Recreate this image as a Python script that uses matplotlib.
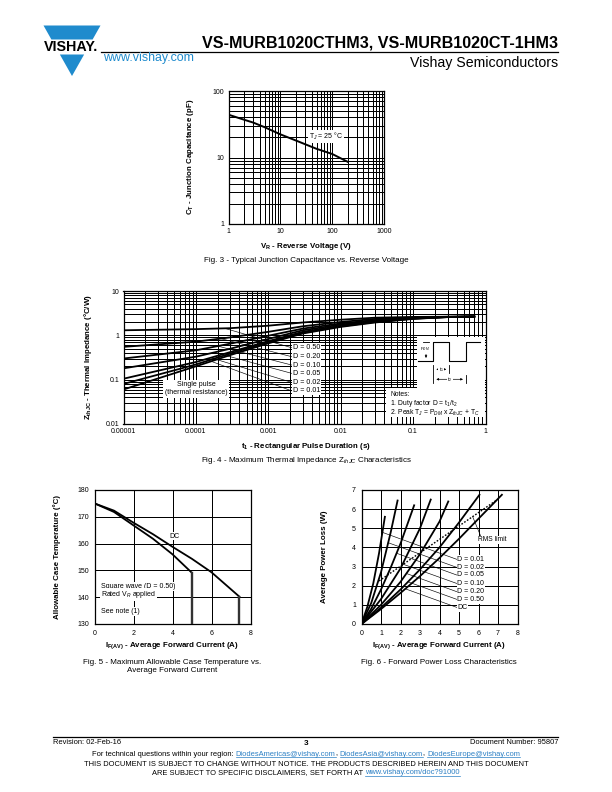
import numpy as np
import matplotlib
matplotlib.use('Agg')
import matplotlib.pyplot as plt
from matplotlib.patches import Polygon, Rectangle
from matplotlib.ticker import LogLocator, FixedLocator, NullFormatter

plt.rcParams['font.family'] = ['Liberation Sans', 'DejaVu Sans']
plt.rcParams['mathtext.fontset'] = 'custom'
plt.rcParams['mathtext.rm'] = 'Liberation Sans'
plt.rcParams['mathtext.it'] = 'Liberation Sans:italic'
plt.rcParams['mathtext.bf'] = 'Liberation Sans:bold'

# ---------------- data ----------------
# Fig. 3
vr_volts = [1, 2, 3, 5, 10, 20, 50, 100, 200]
cap_pf = [44, 37, 33.5, 28.5, 22.3, 18, 13.5, 11.3, 8.6]
fig3_xticks = [1, 10, 100, 1000]
fig3_xticklabels = ['1', '10', '100', '1000']
fig3_yticks = [1, 10, 100]
fig3_yticklabels = ['1', '10', '100']

# Fig. 4
pulse_t = [1e-5, 1e-4, 3e-4, 1e-3, 3e-3, 1e-2, 3e-2, 1e-1, 0.3, 0.7]
zth_d050 = [1.3, 1.38, 1.45, 1.65, 1.95, 2.25, 2.5, 2.6, 2.63, 2.65]
zth_d020 = [0.55, 0.72, 0.9, 1.2, 1.6, 2.0, 2.35, 2.52, 2.62, 2.65]
zth_d010 = [0.3, 0.46, 0.65, 0.98, 1.42, 1.85, 2.22, 2.47, 2.61, 2.65]
zth_d005 = [0.18, 0.33, 0.5, 0.83, 1.3, 1.75, 2.13, 2.43, 2.6, 2.65]
zth_d002 = [0.105, 0.25, 0.42, 0.74, 1.2, 1.65, 2.05, 2.4, 2.59, 2.65]
zth_d001 = [0.08, 0.22, 0.39, 0.7, 1.15, 1.6, 2.0, 2.37, 2.58, 2.65]
zth_single = [0.06, 0.2, 0.36, 0.66, 1.1, 1.55, 1.95, 2.35, 2.58, 2.65]
fig4_labels = ['D = 0.50', 'D = 0.20', 'D = 0.10', 'D = 0.05', 'D = 0.02', 'D = 0.01']
fig4_xticks = [1e-5, 1e-4, 1e-3, 1e-2, 1e-1, 1]
fig4_xticklabels = ['0.00001', '0.0001', '0.001', '0.01', '0.1', '1']
fig4_yticks = [0.01, 0.1, 1, 10]
fig4_yticklabels = ['0.01', '0.1', '1', '10']

# Fig. 5
sq_current = [0, 1, 2, 3, 4, 4.98]
sq_temp = [175, 171.8, 166.8, 161.8, 156, 149.2]
dc_current = [0, 1, 2, 3, 4, 5, 6, 7.43]
dc_temp = [175, 172.3, 167.8, 163.5, 158.8, 154.3, 149.3, 140.2]

# Fig. 6
i_d001 = [0, 0.3, 0.6, 0.9, 1.2]
p_d001 = [0, 0.9, 2.1, 3.7, 5.6]
i_d002 = [0, 0.5, 1.0, 1.5, 1.85]
p_d002 = [0, 1.1, 2.7, 4.8, 6.45]
i_d005 = [0, 0.5, 1.0, 1.5, 2.0, 2.7]
p_d005 = [0, 0.8, 1.8, 2.95, 4.2, 6.2]
i_d010 = [0, 1, 2, 3, 3.55]
p_d010 = [0, 1.3, 2.9, 5.0, 6.5]
i_d020 = [0, 1, 2, 3, 4, 4.45]
p_d020 = [0, 1.0, 2.2, 3.65, 5.35, 6.4]
i_d050 = [0, 1, 2, 3, 4, 5, 6.05]
p_d050 = [0, 0.85, 1.8, 2.85, 4.0, 5.3, 6.75]
i_dc = [0, 1, 2, 3, 4, 5, 6, 7.2]
p_dc = [0, 0.78, 1.62, 2.5, 3.45, 4.45, 5.5, 6.75]
rms_i = [0.9, 6.9]
rms_p = [2.25, 6.45]
fig6_labels = ['D = 0.01', 'D = 0.02', 'D = 0.05', 'D = 0.10', 'D = 0.20', 'D = 0.50', 'DC']

# ---------------- figure ----------------
W, H = 612, 792
fig = plt.figure(figsize=(W / 100, H / 100), dpi=100)


def rect(l, t, r, b):
    return [l / W, 1 - b / H, (r - l) / W, (b - t) / H]


def T(x, y, s, **kw):
    return fig.text(x / W, 1 - y / H, s, **kw)


BLUE = '#1f8bcd'
LINK = '#2a7fc4'
GRID = dict(color='black', linewidth=0.72)
TICK_FS = 5
LAB_FS = 5.7
CAP_FS = 5.75
BOX = dict(facecolor='white', edgecolor='none', pad=0.6)


def style(ax, pad=3):
    for sp in ax.spines.values():
        sp.set_linewidth(0.9)
        sp.set_color('black')
    ax.tick_params(which='both', length=0, labelsize=TICK_FS, pad=pad)
    ax.set_axisbelow(True)


# ---- Fig 3 ----
ax3 = fig.add_axes(rect(228.5, 91, 384, 224))
ax3.set_xscale('log')
ax3.set_yscale('log')
ax3.set_xlim(1, 1000)
ax3.set_ylim(1, 100)
for axis in (ax3.xaxis, ax3.yaxis):
    axis.set_minor_locator(LogLocator(base=10, subs=np.arange(2, 10)))
    axis.set_minor_formatter(NullFormatter())
ax3.xaxis.set_major_locator(FixedLocator(fig3_xticks))
ax3.set_xticklabels(fig3_xticklabels)
ax3.yaxis.set_major_locator(FixedLocator(fig3_yticks))
ax3.set_yticklabels(fig3_yticklabels)
ax3.grid(which='both', **GRID)
style(ax3)
ax3.plot(vr_volts, cap_pf, color='black', lw=1.4)
ax3.text(75, 20.5, 'T$_J$ = 25 °C', ha='center', va='center', fontsize=5.0, bbox=BOX)
T(190, 157, r'C$_\mathbf{T}$ - Junction Capacitance (pF)', rotation=90, ha='center', va='center',
  fontsize=LAB_FS, fontweight='bold')
T(306, 246, r'V$_\mathbf{R}$ - Reverse Voltage (V)', ha='center', va='center', fontsize=LAB_FS,
  fontweight='bold')
T(306, 260, 'Fig. 3 - Typical Junction Capacitance vs. Reverse Voltage', ha='center', va='center',
  fontsize=CAP_FS)

# ---- Fig 4 ----
ax4 = fig.add_axes(rect(123.5, 291, 485.5, 424))
ax4.set_xscale('log')
ax4.set_yscale('log')
ax4.set_xlim(1e-5, 1)
ax4.set_ylim(0.01, 10)
for axis in (ax4.xaxis, ax4.yaxis):
    axis.set_minor_locator(LogLocator(base=10, subs=np.arange(2, 10)))
    axis.set_minor_formatter(NullFormatter())
ax4.xaxis.set_major_locator(FixedLocator(fig4_xticks))
ax4.set_xticklabels(fig4_xticklabels)
ax4.yaxis.set_major_locator(FixedLocator(fig4_yticks))
ax4.set_yticklabels(fig4_yticklabels)
ax4.grid(which='both', **GRID)
style(ax4)
zth_series = [zth_d050, zth_d020, zth_d010, zth_d005, zth_d002, zth_d001]
for z in zth_series + [zth_single]:
    ax4.plot(pulse_t, z, color='black', lw=1.3, zorder=3)
label_t = 2.1e-3
label_y4 = [0.526, 0.33, 0.214, 0.139, 0.087, 0.056]
start_t4 = [2.5e-4, 2.2e-4, 2.0e-4, 1.8e-4, 1.6e-4, 1.5e-4]
lt = np.log10(pulse_t)
for z, lab, ly, st in zip(zth_series, fig4_labels, label_y4, start_t4):
    sy = 10 ** np.interp(np.log10(st), lt, np.log10(z))
    ax4.plot([st, label_t], [sy, ly], color='black', lw=0.45, zorder=2)
    ax4.text(label_t * 1.03, ly, lab, ha='left', va='center', fontsize=5.1, bbox=BOX, zorder=4)
ax4.text(1.0e-4, 0.062, 'Single pulse\n(thermal resistance)', ha='center', va='center',
         fontsize=5.0, linespacing=1.2, bbox=dict(facecolor='white', edgecolor='none', pad=1.2),
         zorder=4)
T(88, 357, r'Z$_\mathbf{thJC}$ - Thermal Impedance (°C/W)', rotation=90, ha='center', va='center',
  fontsize=LAB_FS, fontweight='bold')
T(306, 446, r't$_\mathbf{1}$ - Rectangular Pulse Duration (s)', ha='center', va='center',
  fontsize=LAB_FS, fontweight='bold')
T(306, 461, 'Fig. 4 - Maximum Thermal Impedance Z$_{thJC}$ Characteristics', ha='center',
  va='center', fontsize=CAP_FS)

# ---- Fig 5 ----
ax5 = fig.add_axes(rect(94.5, 490, 250.5, 624))
ax5.set_xlim(0, 8)
ax5.set_ylim(130, 180)
ax5.set_xticks([0, 2, 4, 6, 8])
ax5.set_yticks([130, 140, 150, 160, 170, 180])
ax5.grid(which='major', **GRID)
style(ax5, pad=4)
ax5.plot(sq_current, sq_temp, color='black', lw=1.3, zorder=3)
ax5.plot(dc_current, dc_temp, color='black', lw=1.3, zorder=3)
ax5.plot([sq_current[-1], sq_current[-1]], [sq_temp[-1], 130], color='#333333', lw=1.7, zorder=3)
ax5.plot([dc_current[-1], dc_current[-1]], [dc_temp[-1], 130], color='#333333', lw=1.7, zorder=3)
ax5.text(4.1, 162.8, 'DC', ha='center', va='center', fontsize=5.0, bbox=BOX)
ax5.text(0.33, 143.9, 'Square wave (D = 0.50)', ha='left', va='center', fontsize=5.0, bbox=BOX)
ax5.text(0.33, 141.1, 'Rated V$_R$ applied', ha='left', va='center', fontsize=5.0, bbox=BOX)
ax5.text(0.33, 134.6, 'See note (1)', ha='left', va='center', fontsize=5.0, bbox=BOX)
T(57, 557, 'Allowable Case Temperature (°C)', rotation=90, ha='center', va='center',
  fontsize=LAB_FS, fontweight='bold')
T(172, 646, r'I$_\mathbf{F(AV)}$ - Average Forward Current (A)', ha='center', va='center',
  fontsize=LAB_FS, fontweight='bold')
T(172, 662, 'Fig. 5 - Maximum Allowable Case Temperature vs.', ha='center', va='center',
  fontsize=CAP_FS)
T(172, 671, 'Average Forward Current', ha='center', va='center', fontsize=CAP_FS)

# ---- Fig 6 ----
ax6 = fig.add_axes(rect(361.5, 490, 517.5, 624))
ax6.set_xlim(0, 8)
ax6.set_ylim(0, 7)
ax6.set_xticks(range(0, 9))
ax6.set_yticks(range(0, 8))
ax6.grid(which='major', **GRID)
style(ax6, pad=4)
curves6 = [(i_d001, p_d001), (i_d002, p_d002), (i_d005, p_d005), (i_d010, p_d010),
           (i_d020, p_d020), (i_d050, p_d050), (i_dc, p_dc)]
for xs, ys in curves6:
    ax6.plot(xs, ys, color='black', lw=1.3, zorder=3)
ax6.plot(rms_i, rms_p, color='black', lw=1.0, ls=(0, (1.2, 1.2)), zorder=3)
label_x6 = 4.88
label_y6 = [3.38, 2.96, 2.56, 2.12, 1.69, 1.29, 0.87]
for (xs, ys), lab, ly in zip(curves6, fig6_labels, label_y6):
    xx = np.linspace(0, xs[-1], 600)
    yy = np.interp(xx, xs, ys)
    d = yy - (ly - 0.37 * (xx - label_x6))
    k = np.where(np.diff(np.sign(d)) != 0)[0][0]
    ax6.plot([xx[k], label_x6], [yy[k], ly], color='black', lw=0.45, zorder=2)
    ax6.text(label_x6 + 0.04, ly, lab, ha='left', va='center', fontsize=5.0, bbox=BOX, zorder=4)
rx = 5.7
ry = np.interp(rx, rms_i, rms_p)
ax6.plot([rx, 6.15], [ry, 4.5], color='black', lw=0.45, zorder=2)
ax6.text(6.72, 4.39, 'RMS limit', ha='center', va='center', fontsize=4.8, bbox=BOX, zorder=4)
T(324, 557, 'Average Power Loss (W)', rotation=90, ha='center', va='center',
  fontsize=LAB_FS, fontweight='bold')
T(439, 646, r'I$_\mathbf{F(AV)}$ - Average Forward Current (A)', ha='center', va='center',
  fontsize=LAB_FS, fontweight='bold')
T(439, 662, 'Fig. 6 - Forward Power Loss Characteristics', ha='center', va='center',
  fontsize=CAP_FS)

# ---- overlay for page decoration ----
ov = fig.add_axes([0, 0, 1, 1])
ov.set_xlim(0, W)
ov.set_ylim(H, 0)
ov.axis('off')
ov.set_zorder(10)
ov.patch.set_alpha(0)


def tri_x(y):
    hw = 28.5 * (76 - y) / 50.5
    return 72 - hw, 72 + hw


l0, r0 = tri_x(25.5)
l1, r1 = tri_x(39.5)
ov.add_patch(Polygon([(l0, 25.5), (r0, 25.5), (r1, 39.5), (l1, 39.5)], closed=True,
                     facecolor=BLUE, edgecolor='none'))
l2, r2 = tri_x(54.5)
ov.add_patch(Polygon([(l2, 54.5), (r2, 54.5), (72, 76)], closed=True,
                     facecolor=BLUE, edgecolor='none'))
ov.text(71, 47.3, 'VISHAY.', ha='center', va='center', fontsize=10.3, fontweight='bold',
        color='black')

ov.plot([101, 558], [52.3, 52.3], color='black', lw=0.9)
ov.text(558, 47.5, 'VS-MURB1020CTHM3, VS-MURB1020CT-1HM3', ha='right', va='baseline',
        fontsize=11.65, fontweight='bold')
ov.text(103, 58.5, 'www.vishay.com', ha='left', va='center', fontsize=8.9, color=BLUE)
ov.text(558, 62.5, 'Vishay Semiconductors', ha='right', va='center', fontsize=10.2)

# fig4 inset boxes
ov.add_patch(Rectangle((386, 388), 98.8, 28.5, facecolor='white', edgecolor='none'))
ov.add_patch(Rectangle((416.7, 336.7), 68.1, 51.5, facecolor='white', edgecolor='none'))
ov.plot([418.3, 433.3, 433.3, 449.3, 449.3, 466, 466, 480],
        [361, 361, 341.7, 341.7, 361, 361, 341.7, 341.7], color='black', lw=0.8)
ov.plot([422.7, 429.3], [341.7, 341.7], color='black', lw=0.6)
ov.plot([422.7, 429.3], [361, 361], color='black', lw=0.6)
ov.annotate('', xy=(426, 341.9), xytext=(426, 351.3),
            arrowprops=dict(arrowstyle='-|>', lw=0.5, color='black', mutation_scale=3))
ov.annotate('', xy=(426, 360.8), xytext=(426, 351.3),
            arrowprops=dict(arrowstyle='-|>', lw=0.5, color='black', mutation_scale=3))
ov.text(424.5, 349.5, 'P$_{DM}$', ha='center', va='center', fontsize=3.2,
        bbox=dict(facecolor='white', edgecolor='none', pad=0.2))
ov.plot([433.3, 433.3], [365, 383.3], color='black', lw=0.6)
ov.plot([449.3, 449.3], [365, 373.3], color='black', lw=0.6)
ov.plot([466, 466], [375, 383.3], color='black', lw=0.6)
ov.annotate('', xy=(433.5, 369.3), xytext=(449.1, 369.3),
            arrowprops=dict(arrowstyle='<|-|>', lw=0.5, color='black', mutation_scale=3))
ov.annotate('', xy=(433.5, 379.3), xytext=(465.8, 379.3),
            arrowprops=dict(arrowstyle='<|-|>', lw=0.5, color='black', mutation_scale=3))
ov.text(441.3, 369.3, 't$_1$', ha='center', va='center', fontsize=3.6,
        bbox=dict(facecolor='white', edgecolor='none', pad=0.3))
ov.text(449.7, 379.3, 't$_2$', ha='center', va='center', fontsize=3.6,
        bbox=dict(facecolor='white', edgecolor='none', pad=0.3))
ov.text(390.5, 396.5, 'Notes:', ha='left', va='baseline', fontsize=4.9)
ov.text(390.5, 405, '1. Duty factor D = t$_1$/t$_2$', ha='left', va='baseline', fontsize=4.9)
ov.text(390.5, 414.5, '2. Peak T$_J$ = P$_{DM}$ x Z$_{thJC}$ + T$_C$', ha='left', va='baseline',
        fontsize=4.9)

# footer
ov.plot([53, 558], [737.3, 737.3], color='black', lw=0.9)
FFS = 5.45
ov.text(53, 742.5, 'Revision: 02-Feb-16', ha='left', va='center', fontsize=FFS)
ov.text(306, 743.5, '3', ha='center', va='center', fontsize=FFS + 0.4, fontweight='bold')
ov.text(558, 742.5, 'Document Number: 95807', ha='right', va='center', fontsize=FFS)

renderer = fig.canvas.get_renderer()


def piece_line(pieces, cx, y, fs):
    objs = []
    widths = []
    for s, col, und in pieces:
        t = ov.text(0, y, s, ha='left', va='baseline', fontsize=fs, color=col)
        bb = t.get_window_extent(renderer)
        objs.append((t, col, und))
        widths.append(bb.width)
    total = sum(widths)
    x = cx - total / 2
    for (t, col, und), w in zip(objs, widths):
        t.set_x(x)
        if und:
            ov.plot([x, x + w], [y + 1.3, y + 1.3], color=col, lw=0.5)
        x += w


piece_line([('For technical questions within your region: ', 'black', False),
            ('DiodesAmericas@vishay.com', LINK, True), (', ', 'black', False),
            ('DiodesAsia@vishay.com', LINK, True), (', ', 'black', False),
            ('DiodesEurope@vishay.com', LINK, True)], 306, 755.5, FFS)
ov.text(306, 766.5, 'THIS DOCUMENT IS SUBJECT TO CHANGE WITHOUT NOTICE. THE PRODUCTS DESCRIBED '
        'HEREIN AND THIS DOCUMENT', ha='center', va='baseline', fontsize=FFS)
piece_line([('ARE SUBJECT TO SPECIFIC DISCLAIMERS, SET FORTH AT ', 'black', False),
            ('www.vishay.com/doc?91000', LINK, True)], 306, 774.5, FFS)

fig.savefig('out.png', dpi=100)
